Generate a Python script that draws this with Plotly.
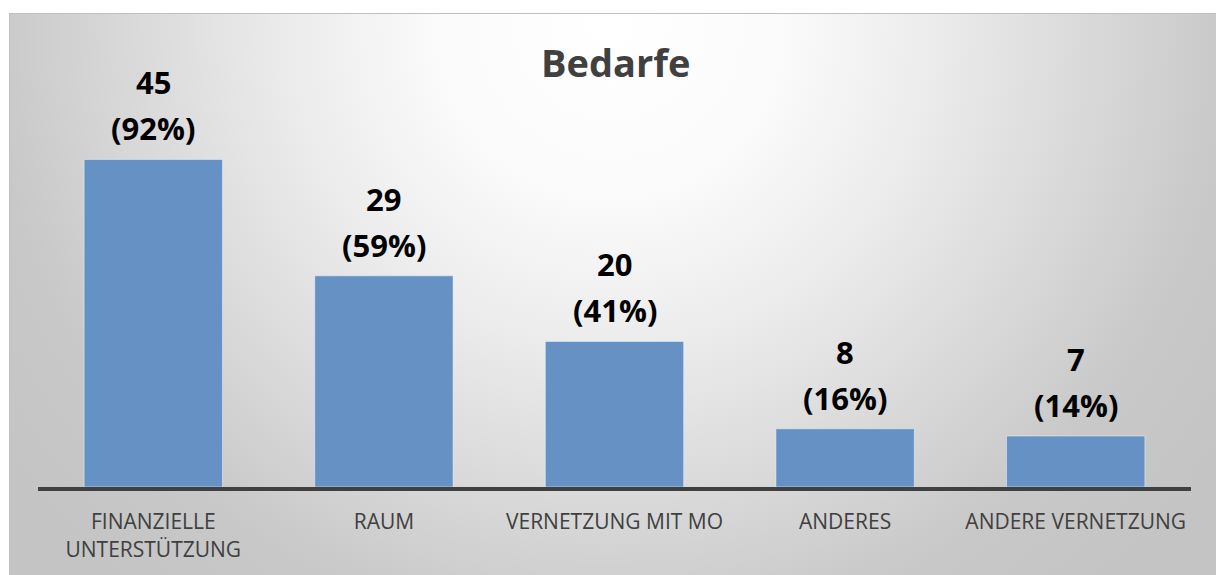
import base64
import plotly.graph_objects as go

categories = ["FINANZIELLE<br>UNTERSTÜTZUNG", "RAUM", "VERNETZUNG MIT MO", "ANDERES", "ANDERE VERNETZUNG"]
counts = [45, 29, 20, 8, 7]
percents = [92, 59, 41, 16, 14]
title_text = "Bedarfe"

W, H = 1216, 575
L, R, T, B = 38, 25, 13, 86
PW, PH = W - L - R, H - T - B
PX_PER_UNIT = 329 / 45
ymax = PH / PX_PER_UNIT

def fx(px):
    return (px - L) / PW

def fy(py):
    return (H - B - py) / PH

# frame with radial gradient (extends past the bottom/right edges)
fx0, fy0 = 9, 13
fw, fh = W - fx0 + 10, H - fy0 + 12
svg = f'''<svg xmlns="http://www.w3.org/2000/svg" width="{fw}" height="{fh}" viewBox="0 0 {fw} {fh}" preserveAspectRatio="none">
<defs><radialGradient id="g" gradientUnits="userSpaceOnUse" cx="{610-fx0}" cy="{25-fy0}" r="760">
<stop offset="0" stop-color="#ffffff"/>
<stop offset="0.22" stop-color="#fbfbfb"/>
<stop offset="0.42" stop-color="#ececec"/>
<stop offset="0.82" stop-color="#c8c8c8"/>
<stop offset="1" stop-color="#c4c4c4"/>
</radialGradient></defs>
<rect x="0" y="0" width="{fw}" height="{fh}" fill="url(#g)"/>
<rect x="0.5" y="0.5" width="{fw+5}" height="{fh+5}" fill="none" stroke="#c0c0c0" stroke-width="1"/>
</svg>'''
src = "data:image/svg+xml;base64," + base64.b64encode(svg.encode()).decode()

fig = go.Figure()
fig.add_trace(go.Bar(
    x=categories, y=counts,
    marker=dict(color="#6591c5", line=dict(color="rgba(255,255,255,0.45)", width=1)),
    hoverinfo="skip",
))

label_font = dict(family="Open Sans", size=31, color="#000000", weight="bold")
annotations = []
for c, v, p in zip(categories, counts, percents):
    annotations.append(dict(
        x=c, y=v, xref="x", yref="y", text=f"{v}", showarrow=False,
        yanchor="middle", yshift=77, font=label_font,
    ))
    annotations.append(dict(
        x=c, y=v, xref="x", yref="y", text=f"({p}%)", showarrow=False,
        yanchor="middle", yshift=31, font=label_font,
    ))
annotations.append(dict(
    x=fx(615), y=fy(62), xref="paper", yref="paper", text=f"<b>{title_text}</b>", showarrow=False,
    xanchor="center", yanchor="middle",
    font=dict(family="Open Sans", size=38, color="#404040"),
))

fig.update_layout(
    width=W, height=H,
    margin=dict(l=L, r=R, t=T, b=B, pad=0),
    paper_bgcolor="#ffffff",
    plot_bgcolor="rgba(0,0,0,0)",
    showlegend=False,
    bargap=0.4,
    images=[dict(source=src, xref="paper", yref="paper", x=fx(fx0), y=fy(fy0),
                 sizex=fw / PW, sizey=fh / PH, xanchor="left", yanchor="top",
                 sizing="stretch", layer="below")],
    annotations=annotations,
    xaxis=dict(
        showline=True, linecolor="#404040", linewidth=4,
        ticks="outside", ticklen=13, tickcolor="rgba(0,0,0,0)",
        tickfont=dict(family="Open Sans", size=21, color="#404040"),
        showgrid=False, zeroline=False,
    ),
    yaxis=dict(range=[0, ymax], visible=False, showgrid=False, zeroline=False),
)

fig.write_html(
    "out.html",
    config={"displayModeBar": False},
    post_script=(
        "document.documentElement.style.margin='0';document.documentElement.style.padding='0';"
        "document.body.style.margin='0';document.body.style.padding='0';"
        "document.documentElement.style.overflow='hidden';document.body.style.overflow='hidden';"
        "window.scrollTo(0,0);"
    ),
)
